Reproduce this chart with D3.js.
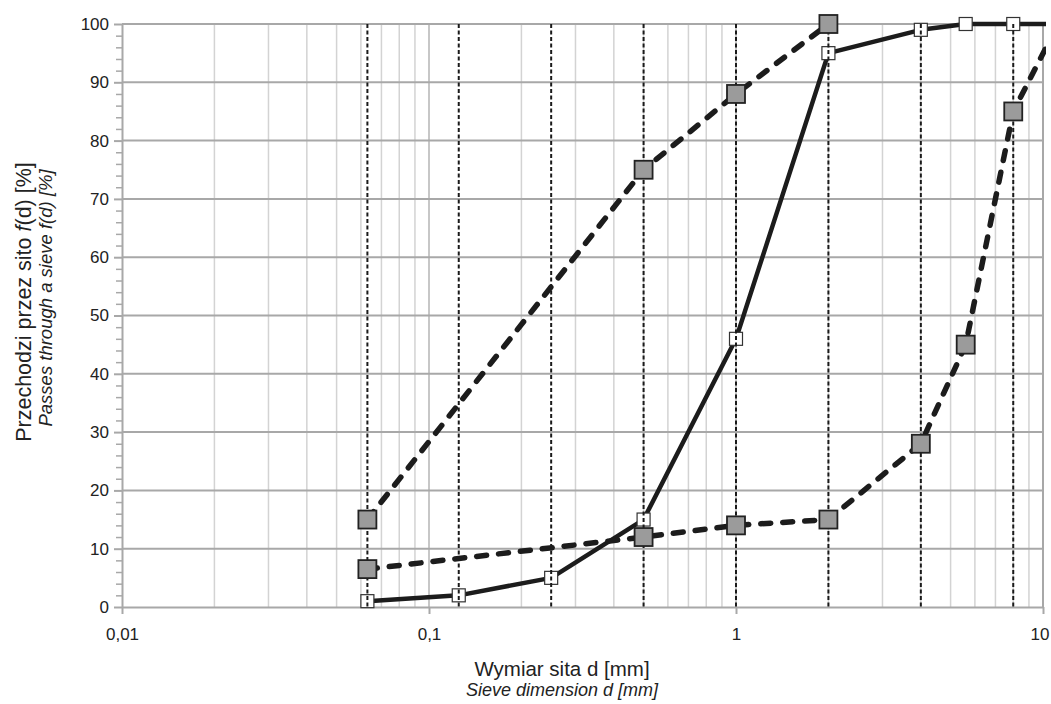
<!DOCTYPE html>
<html>
<head>
<meta charset="utf-8">
<script src="https://cdn.jsdelivr.net/npm/d3@7"></script>
<style>
  body { margin: 0; background: #fff; }
  svg { display: block; font-family: "Liberation Sans", Arial, sans-serif; }
</style>
</head>
<body>
<svg id="chart" width="1051" height="704"></svg>
<script>
// sieve sizes [mm] marked with vertical dashed lines
var sieves = [0.063, 0.125, 0.25, 0.5, 1, 2, 4, 8];

// grading curve (solid, white markers)
var curveD = [0.063, 0.125, 0.25, 0.5, 1, 2, 4, 5.6, 8, 11.2];
var curveV = [1, 2, 5, 15, 46, 95, 99, 100, 100, 100];

// upper limit (dashed, grey markers)
var upperD = [0.063, 0.5, 1, 2];
var upperV = [15, 75, 88, 100];

// lower limit (dashed, grey markers)
var lowerD = [0.063, 0.5, 1, 2, 4, 5.6, 8, 11.2];
var lowerV = [6.5, 12, 14, 15, 28, 45, 85, 100];

var xTicks = [0.01, 0.1, 1, 10];
var xTickLabels = ["0,01", "0,1", "1", "10"];
var yTicks = [0, 10, 20, 30, 40, 50, 60, 70, 80, 90, 100];

var width = 1051, height = 704,
    margins = {left: 122, right: 8, top: 24, bottom: 97};

var svg = d3.select("#chart");

var xScale = d3.scaleLog().domain([0.01, 10]).range([margins.left, width - margins.right]);
var yScale = d3.scaleLinear().domain([0, 100]).range([height - margins.bottom, margins.top]);

var x0 = xScale.range()[0], x1 = xScale.range()[1],
    yB = yScale.range()[0], yT = yScale.range()[1];

function zip(ds, vs) { return ds.map((d, i) => ({d: d, v: vs[i]})); }

//grid - minor verticals
var minors = [];
[0.01, 0.1, 1].forEach(function(dec) {
    for (var k = 2; k <= 9; k++) minors.push(dec * k);
});

svg.append("g").selectAll("line").data(minors).enter().append("line")
    .attr("x1", d => xScale(d)).attr("x2", d => xScale(d))
    .attr("y1", yT).attr("y2", yB)
    .attr("stroke", "#d3d3d3").attr("stroke-width", 1.5);

svg.append("g").selectAll("line").data([0.1, 1]).enter().append("line")
    .attr("x1", d => xScale(d)).attr("x2", d => xScale(d))
    .attr("y1", yT).attr("y2", yB)
    .attr("stroke", "#b4b4b4").attr("stroke-width", 1.5);

svg.append("g").selectAll("line").data(yTicks.slice(1)).enter().append("line")
    .attr("x1", x0).attr("x2", x1)
    .attr("y1", d => yScale(d)).attr("y2", d => yScale(d))
    .attr("stroke", "#a8a8a8").attr("stroke-width", 2);

// right border
svg.append("line")
    .attr("x1", x1).attr("x2", x1).attr("y1", yT).attr("y2", yB)
    .attr("stroke", "#a8a8a8").attr("stroke-width", 2);

//axes
var yMinor = d3.range(0, 101, 2).filter(d => d % 10 !== 0);
svg.append("g")
    .attr("transform", "translate(" + x0 + ",0)")
    .call(d3.axisLeft(yScale).tickValues(yMinor).tickSize(6).tickFormat(""))
    .call(g => g.select(".domain").remove())
    .call(g => g.selectAll(".tick line").attr("stroke", "#a8a8a8").attr("stroke-width", 1.5));

svg.append("g")
    .attr("class", "yAxis")
    .attr("transform", "translate(" + x0 + ",0)")
    .call(d3.axisLeft(yScale).tickValues(yTicks).tickSize(8).tickPadding(5).tickSizeOuter(0))
    .call(g => g.select(".domain").attr("stroke", "#a8a8a8").attr("stroke-width", 2))
    .call(g => g.selectAll(".tick line").attr("stroke", "#a8a8a8").attr("stroke-width", 2))
    .call(g => g.selectAll(".tick text").attr("font-size", 17).attr("fill", "#222")
        .attr("font-family", "Liberation Sans, Arial, sans-serif"));

svg.append("g")
    .attr("class", "xAxis")
    .attr("transform", "translate(0," + yB + ")")
    .call(d3.axisBottom(xScale).tickValues(xTicks).tickSize(7).tickPadding(14).tickSizeOuter(0)
        .tickFormat((d, i) => xTickLabels[i]))
    .call(g => g.select(".domain").attr("stroke", "#a8a8a8").attr("stroke-width", 2))
    .call(g => g.selectAll(".tick line").attr("stroke", "#a8a8a8").attr("stroke-width", 2))
    .call(g => g.selectAll(".tick text").attr("font-size", 17).attr("fill", "#222")
        .attr("font-family", "Liberation Sans, Arial, sans-serif"));

// last label sits against the right edge
d3.selectAll(".xAxis .tick text").filter(d => d === 10)
    .attr("text-anchor", "end").attr("x", 6);

// clip for curves at right edge
svg.append("clipPath").attr("id", "plotClip").append("rect")
    .attr("x", x0).attr("y", 0).attr("width", x1 - x0 + 3).attr("height", height);

var line = d3.line().x(p => xScale(p.d)).y(p => yScale(p.v));

var curve = zip(curveD, curveV),
    upper = zip(upperD, upperV),
    lower = zip(lowerD, lowerV);

// solid grading curve
svg.append("path")
    .attr("clip-path", "url(#plotClip)")
    .attr("d", line(curve))
    .attr("fill", "none").attr("stroke", "#1c1c1c").attr("stroke-width", 4.5)
    .attr("stroke-linejoin", "round");

var ws = 13;
svg.append("g").selectAll("rect").data(curve.filter(p => p.d <= 10)).enter().append("rect")
    .attr("x", p => xScale(p.d) - ws / 2).attr("y", p => yScale(p.v) - ws / 2)
    .attr("width", ws).attr("height", ws)
    .attr("fill", "#fff").attr("stroke", "#333").attr("stroke-width", 1.2);

// vertical sieve lines
svg.append("g").selectAll("line").data(sieves).enter().append("line")
    .attr("x1", d => xScale(d)).attr("x2", d => xScale(d))
    .attr("y1", yT).attr("y2", yB)
    .attr("stroke", "#1a1a1a").attr("stroke-width", 2)
    .attr("stroke-dasharray", "4,2.5");

// limit curves
[upper, lower].forEach(function(s) {
    svg.append("path")
        .attr("clip-path", "url(#plotClip)")
        .attr("d", line(s))
        .attr("fill", "none").attr("stroke", "#1c1c1c").attr("stroke-width", 5.5)
        .attr("stroke-linecap", "round")
        .attr("stroke-dasharray", "10,12");
});

var gs = 18;
svg.append("g").selectAll("rect").data(upper.concat(lower).filter(p => p.d <= 10)).enter().append("rect")
    .attr("x", p => xScale(p.d) - gs / 2).attr("y", p => yScale(p.v) - gs / 2)
    .attr("width", gs).attr("height", gs)
    .attr("fill", "#9b9b9b").attr("stroke", "#222").attr("stroke-width", 1.8);

//labels
var yl = svg.append("text")
    .attr("transform", "translate(31," + 302 + ") rotate(-90)")
    .attr("text-anchor", "middle").attr("font-size", 21.5).attr("fill", "#222");
yl.append("tspan").text("Przechodzi przez sito ");
yl.append("tspan").attr("font-style", "italic").text("f");
yl.append("tspan").text("(d) [%]");

svg.append("text")
    .attr("transform", "translate(52," + 298 + ") rotate(-90)")
    .attr("text-anchor", "middle").attr("font-size", 18.5).attr("font-style", "italic")
    .attr("fill", "#222")
    .text("Passes through a sieve f(d) [%]");

svg.append("text")
    .attr("x", 562).attr("y", 676)
    .attr("text-anchor", "middle").attr("font-size", 20.5).attr("fill", "#222")
    .text("Wymiar sita d [mm]");

svg.append("text")
    .attr("x", 562).attr("y", 696)
    .attr("text-anchor", "middle").attr("font-size", 18).attr("font-style", "italic")
    .attr("fill", "#222")
    .text("Sieve dimension d [mm]");
</script>
</body>
</html>
